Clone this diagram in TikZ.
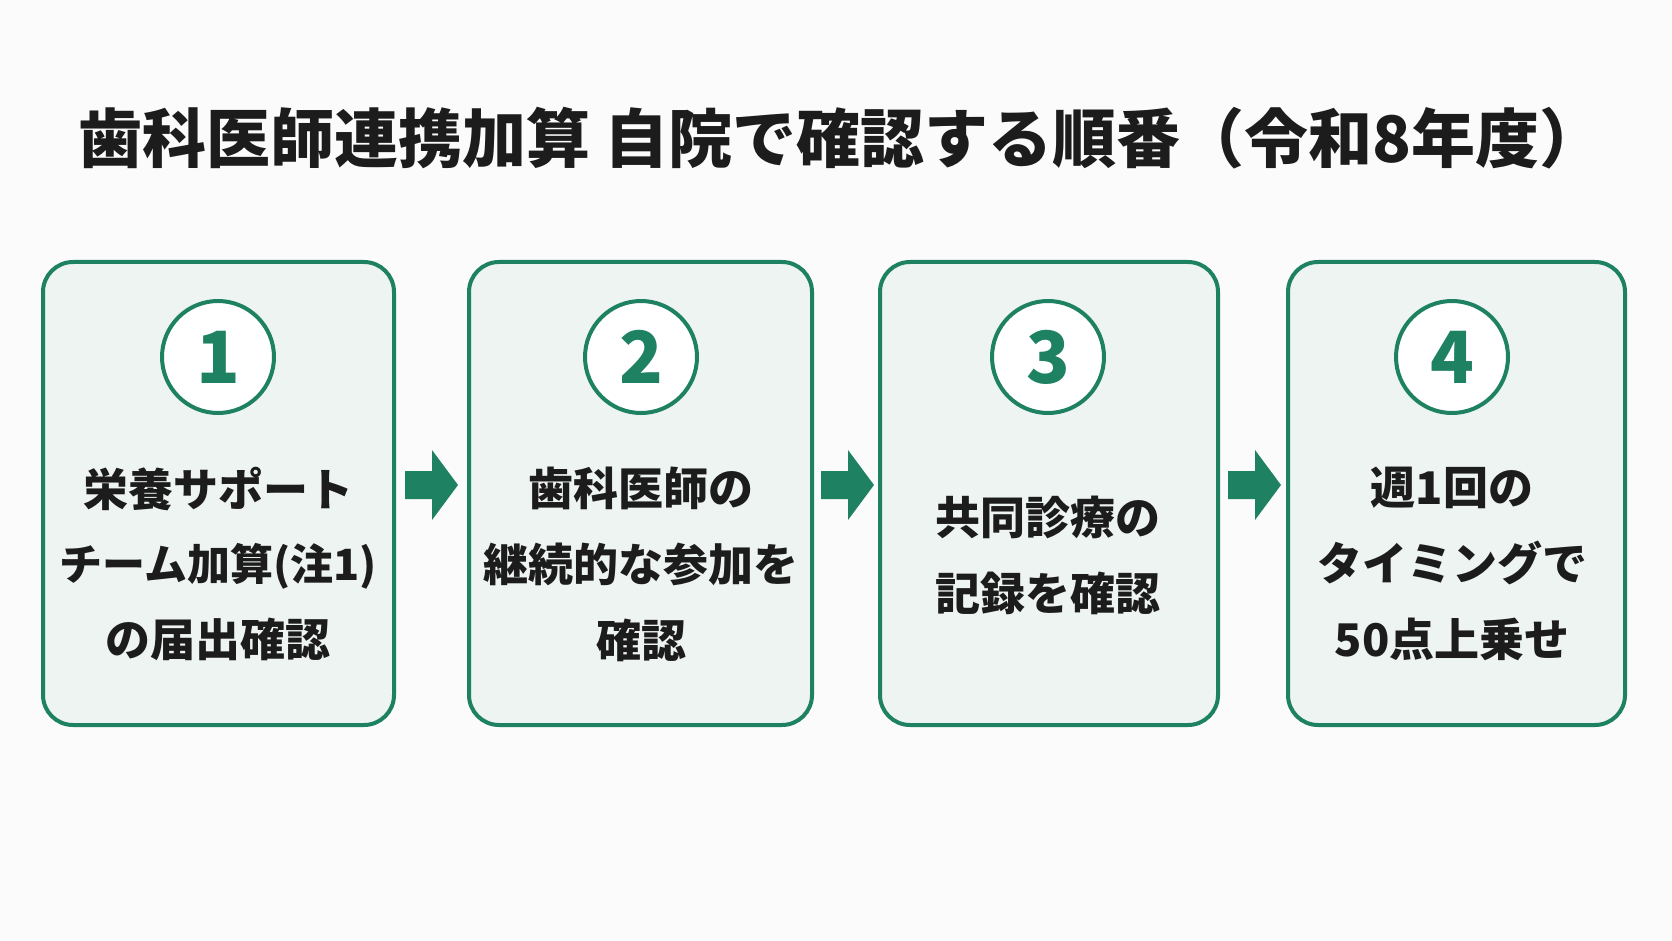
\documentclass[tikz,border=0pt]{standalone}
\usepackage{fontspec}
\newfontfamily\cjk{Noto Sans CJK JP}[BoldFont={* Black}]
\definecolor{grn}{HTML}{1E8262}
\definecolor{boxfill}{HTML}{EEF4F2}
\definecolor{bg}{HTML}{FBFBFB}
\definecolor{txt}{HTML}{1C1C1C}
\begin{document}
\begin{tikzpicture}[x=1pt,y=-1pt,
  box/.style={draw=grn,line width=4pt,fill=boxfill,rounded corners=30pt},
  num/.style={circle,draw=grn,line width=4pt,fill=white,minimum size=112pt,inner sep=0pt,text=grn,font=\cjk\bfseries\fontsize{72}{72}\selectfont},
  body/.style={align=center,text=txt,font=\cjk\bfseries\fontsize{45}{76}\selectfont},
  arr/.style={fill=grn,draw=none}]
\fill[bg] (0,0) rectangle (1672,941);
\useasboundingbox (0,0) rectangle (1672,941);
\node[text=txt,font=\cjk\bfseries\fontsize{64}{70}\selectfont] (title) at (841,138) {歯科医師連携加算 自院で確認する順番（令和8年度）};
\foreach \i/\l/\r/\c in {1/43/394/218,2/469/812/641,3/880/1218/1048,4/1288/1625/1452}{
  \draw[box] (\l,262) rectangle (\r,725);
  \node[num] (n\i) at (\c,357) {\i};
}
\node[body] (t1) at (218,564) {栄養サポート\\[-2pt]{\fontsize{43}{76}\selectfont チーム加算(注1)}\\の届出確認};
\node[body] (t2) at (641,564) {歯科医師の\\継続的な参加を\\確認};
\node[body] (t3) at (1048,555) {共同診療の\\記録を確認};
\node[body] (t4) at (1452,564) {週1回の\\タイミングで\\50点上乗せ};
\foreach \a in {405,821,1228}{
  \fill[arr] (\a,471) -- (\a+27,471) -- (\a+27,450) -- (\a+53,485) -- (\a+27,520) -- (\a+27,499) -- (\a,499) -- cycle;
}
\end{tikzpicture}
\end{document}
